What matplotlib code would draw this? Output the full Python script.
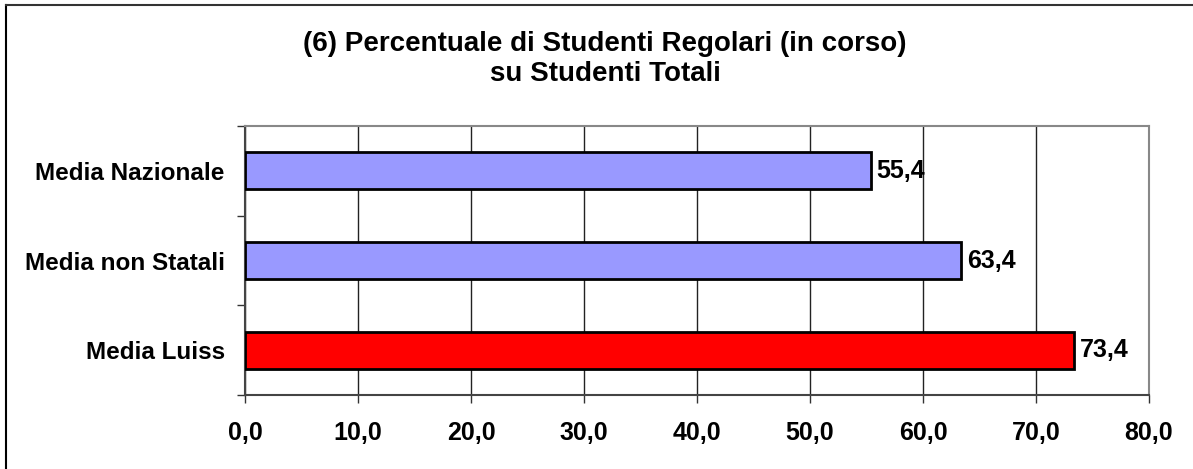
import matplotlib
matplotlib.use("Agg")
import matplotlib.pyplot as plt
from matplotlib.lines import Line2D
import numpy as np

plt.rcParams["font.family"] = ["Liberation Sans", "DejaVu Sans"]
plt.rcParams["font.weight"] = "bold"

categories = ["Media Luiss", "Media non Statali", "Media Nazionale"]
values = [73.4, 63.4, 55.4]
bar_colors = ["#ff0000", "#9999ff", "#9999ff"]
x_ticks = [0, 10, 20, 30, 40, 50, 60, 70, 80]
title = "(6) Percentuale di Studenti Regolari (in corso)\nsu Studenti Totali"


def fmt(v):
    return f"{v:.1f}".replace(".", ",")


fig = plt.figure(figsize=(11.93, 4.69), dpi=100)
ax = fig.add_axes([245 / 1193, 1 - 395 / 469, 904 / 1193, 269 / 469])

y = np.arange(len(categories))
ax.barh(y, values, height=0.41, color=bar_colors, edgecolor="black", linewidth=2, zorder=3)
for yi, v in zip(y, values):
    ax.text(v + 0.5, yi, fmt(v), va="center", ha="left", fontsize=18, fontweight="bold", zorder=4)

ax.set_xlim(0, 80)
ax.set_ylim(-0.5, 2.5)
ax.set_xticks(x_ticks)
ax.set_xticklabels([fmt(t) for t in x_ticks], fontsize=18, fontweight="bold")
ax.set_yticks(y, categories, fontsize=17.5, fontweight="bold")
ax.set_yticks([-0.5, 0.5, 1.5, 2.5], minor=True)
ax.tick_params(axis="y", which="major", length=0, pad=14.5)
ax.tick_params(axis="y", which="minor", length=6, width=1, color="#333333")
ax.tick_params(axis="x", length=6, width=1, color="#333333", pad=13)
ax.xaxis.grid(True, color="#222222", linewidth=1, zorder=0)
ax.set_axisbelow(True)

for side in ("top", "right"):
    ax.spines[side].set_color("#888888")
    ax.spines[side].set_linewidth(1.5)
for side in ("left", "bottom"):
    ax.spines[side].set_color("#444444")
    ax.spines[side].set_linewidth(1.5)

fig.text(605 / 1193, 1 - 59 / 469, title, ha="center", va="center", fontsize=20,
         fontweight="bold", linespacing=1.22)

# outer chart border (only left and top edges are visible)
fig.add_artist(Line2D([6 / 1193, 6 / 1193], [0, 1 - 5.5 / 469], color="black", linewidth=1.5))
fig.add_artist(Line2D([6 / 1193, 1], [1 - 5.5 / 469, 1 - 5.5 / 469], color="#333333", linewidth=1.5))

fig.savefig("out.png", dpi=100)
